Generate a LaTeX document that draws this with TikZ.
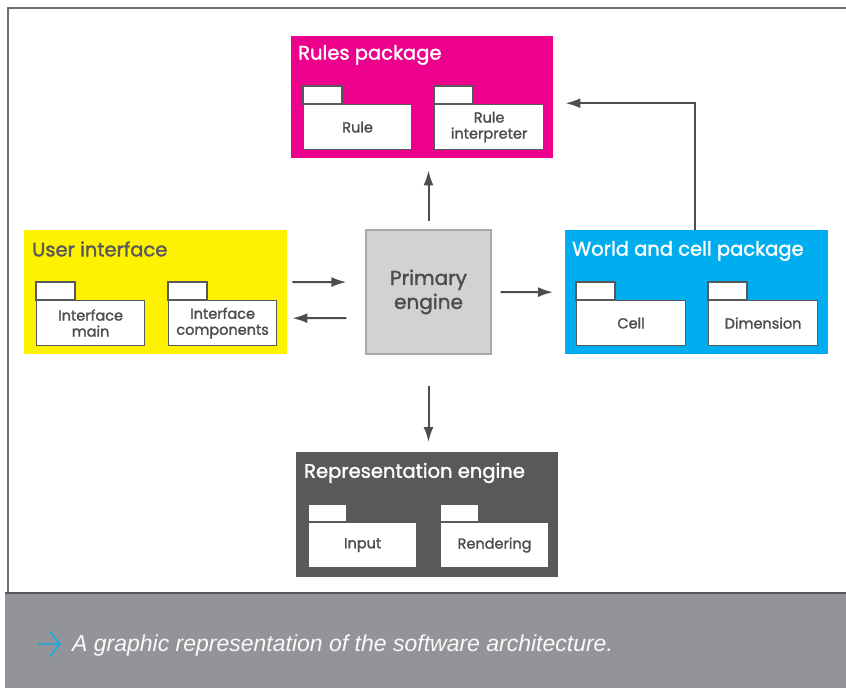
\documentclass[tikz,border=0pt]{standalone}
\usepackage{fontspec}
\setmainfont{Poppins}
\newfontfamily\pkgfont[FakeBold=1.6]{Poppins}
\newfontfamily\capfont{Liberation Sans}
\usetikzlibrary{positioning,arrows.meta}

\definecolor{rulesmag}{HTML}{EC008C}
\definecolor{uiyellow}{HTML}{FFF200}
\definecolor{worldcyan}{HTML}{00AEEF}
\definecolor{repdark}{HTML}{58595B}
\definecolor{enginegray}{HTML}{D1D2D4}
\definecolor{engineline}{HTML}{A7A9AC}
\definecolor{inkgray}{HTML}{4D4D4F}
\definecolor{bandgray}{HTML}{939498}
\definecolor{framegray}{HTML}{6D6E71}
\definecolor{capcyan}{HTML}{00AEEF}

\tikzset{
  pkg/.style={anchor=north west,inner sep=0pt,minimum width=262pt,minimum height=124pt},
  pkgtitle/.style={anchor=west,inner sep=0pt,font=\pkgfont\fontsize{19.5}{20}\selectfont},
  sub/.style={draw=repdark,fill=white,line width=1.2pt,anchor=north west,
    minimum width=108pt,minimum height=45pt,align=center,text=inkgray,
    font=\pkgfont\fontsize{14.5}{16}\selectfont},
  arr/.style={->,>={Latex[length=15pt,width=10pt]},draw=inkgray,line width=2pt}
}

% tab of a sub package, on top of its body
\newcommand{\subtab}[1]{\draw[draw=repdark,fill=white,line width=1.2pt] (#1.north west) rectangle ++(39,-18);}

\begin{document}
\begin{tikzpicture}[x=1pt,y=-1pt]
\useasboundingbox (0,0) rectangle (846,688);
\fill[white] (0,0) rectangle (846,688);

% frame and caption band
\fill[bandgray] (5,594) rectangle (846,688);
\draw[framegray,line width=2pt] (846,8) -- (8,8) -- (8,593);
\draw[framegray!80!black,line width=2pt] (5,593) -- (846,593);

% packages
\node[pkg,fill=rulesmag,minimum height=122pt] (rules) at (291,36) {};
\node[pkgtitle,text=white] at ([xshift=7pt,yshift=-19pt]rules.north west) {Rules package};
\node[sub] (rule) at (303,104) {Rule};
\node[sub,minimum width=109pt] (interp) at (434,104) {Rule\\interpreter};
\subtab{rule}
\subtab{interp}

\node[pkg,fill=uiyellow,minimum width=263pt] (ui) at (24,230) {};
\node[pkgtitle,text=repdark] at ([xshift=8pt,yshift=-19pt]ui.north west) {User interface};
\node[sub] (imain) at (36,300) {Interface\\main};
\node[sub] (icomp) at (168,300) {Interface\\components};
\subtab{imain}
\subtab{icomp}

\node[draw=engineline,fill=enginegray,line width=1.2pt,minimum width=125pt,minimum height=124pt,
  align=center,text=inkgray,font=\pkgfont\fontsize{20}{24}\selectfont] (engine) at (428.5,292) {Primary\\engine};

\node[pkg,fill=worldcyan,minimum width=263pt] (world) at (565,230) {};
\node[pkgtitle,text=white] at ([xshift=7pt,yshift=-21pt]world.north west) {World and cell package};
\node[sub,minimum width=109pt] (cell) at (576,300) {Cell};
\node[sub,minimum width=109pt] (dimen) at (708,300) {Dimension};
\subtab{cell}
\subtab{dimen}

\node[pkg,fill=repdark,minimum height=125pt] (repr) at (296,452) {};
\node[pkgtitle,text=white] at ([xshift=8pt,yshift=-21pt]repr.north west) {Representation engine};
\node[sub] (input) at (308,522) {Input};
\node[sub] (render) at (440,522) {Rendering};
\subtab{input}
\subtab{render}

% connectors
\draw[arr,shorten <=5pt,shorten >=19pt] ([yshift=10pt]ui.east) -- ([yshift=10pt]engine.west);
\draw[arr,shorten <=19pt,shorten >=5pt] ([yshift=-26pt]engine.west) -- ([yshift=-26pt]ui.east);
\draw[arr,shorten <=9pt,shorten >=12pt] (engine.east) -- (world.west);
\draw[arr,shorten <=8pt,shorten >=12pt] (engine.north) -- (rules.south -| engine.north);
\draw[arr,shorten <=31pt,shorten >=10pt] (engine.south) -- (repr.north -| engine.south);
\draw[arr,shorten >=12pt] ([xshift=-1.5pt]world.north) |- ([yshift=-6pt]rules.east);

% caption
\draw[capcyan,line width=1.3pt] (38,644) -- (60,644) (50,632) -- (60,644) -- (50,656);
\node[anchor=west,inner sep=0pt,text=white!95!bandgray,font=\capfont\itshape\fontsize{23}{25}\selectfont]
  (caption) at (72,646) {A graphic representation of the software architecture.};
\end{tikzpicture}
\end{document}
